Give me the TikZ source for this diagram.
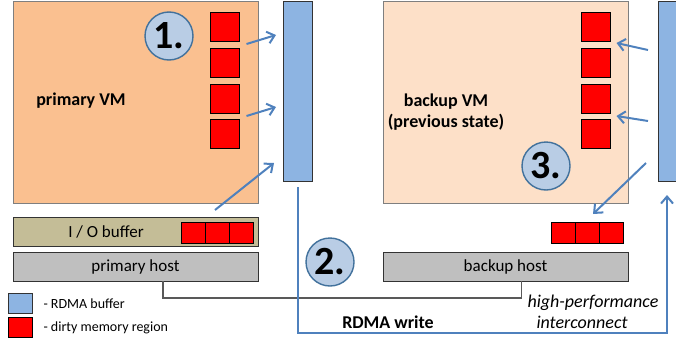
\documentclass[tikz,border=0pt]{standalone}
\usepackage{fontspec}
\setmainfont{Carlito}
\usetikzlibrary{arrows.meta}
\definecolor{vmorange}{HTML}{FAC090}
\definecolor{vmpeach}{HTML}{FDE0C8}
\definecolor{iotan}{HTML}{C4BD97}
\definecolor{hostgray}{HTML}{BFBFBF}
\definecolor{bufblue}{HTML}{8DB4E2}
\definecolor{stepfill}{HTML}{B9CDE5}
\definecolor{stepline}{HTML}{41719C}
\definecolor{flowblue}{HTML}{4F81BD}
\definecolor{boxline}{HTML}{7F7F7F}
\newcommand*{\sqSize}{29}
\newcommand*{\pCol}{225}
\newcommand*{\bCol}{596}

\begin{document}
\begin{tikzpicture}[x=1pt,y=-1pt,
	vmbox/.style={draw=boxline,line width=.8pt,minimum width=245pt,minimum height=202pt,inner sep=0pt,outer sep=0pt},
	hostbox/.style={draw=black!80,line width=.8pt,fill=hostgray,minimum width=245pt,minimum height=29pt,inner sep=0pt,outer sep=0pt,font=\fontsize{17}{19}\selectfont},
	rdmabuf/.style={draw=black!80,line width=.8pt,fill=bufblue,minimum width=29pt,minimum height=180pt,inner sep=0pt,outer sep=0pt},
	dirty/.style={draw=black,line width=.8pt,fill=red,minimum width=\sqSize pt,minimum height=\sqSize pt,inner sep=0pt,outer sep=0pt},
	dirtysmall/.style={dirty,minimum width=24pt,minimum height=21pt},
	stepno/.style={circle,draw=stepline,line width=1.4pt,fill=stepfill,minimum size=48pt,inner sep=0pt,font=\fontsize{40}{40}\selectfont\bfseries},
	flow/.style={draw=flowblue,line width=2pt,-{Straight Barb[length=7pt,width=12pt]}},
	label/.style={font=\fontsize{18}{21}\selectfont\bfseries}]
	\useasboundingbox (0,0) rectangle (676,343);
	
	\node[vmbox,fill=vmorange] (pvm) at (135.5,102) {};
	\node[vmbox,fill=vmpeach] (bvm) at (505.5,102) {};
	\node[label] (pvmtxt) at (81,101) {primary VM};
	\node[label,align=center] (bvmtxt) at (446,112) {backup VM\\(previous state)};
	
	\node[rdmabuf] (pbuf) at (297.5,91) {};
	\node[rdmabuf] (bbuf) at (672.5,91) {};
	
	\node[dirty] (p1) at (\pCol,26.5) {};
	\node[dirty] (p2) at (\pCol,62.5) {};
	\node[dirty] (p3) at (\pCol,98.5) {};
	\node[dirty] (p4) at (\pCol,134) {};
	\node[dirty] (b1) at (\bCol,26.5) {};
	\node[dirty] (b2) at (\bCol,62.5) {};
	\node[dirty] (b3) at (\bCol,98.5) {};
	\node[dirty] (b4) at (\bCol,134) {};
	
	\node[hostbox,fill=iotan] (io) at (135.5,231.5) {};
	\node[font=\fontsize{17}{19}\selectfont] (iotxt) at (106,232) {I / O buffer};
	\node[dirtysmall] (pio1) at (193,232.5) {};
	\node[dirtysmall] (pio2) at (217,232.5) {};
	\node[dirtysmall] (pio3) at (241,232.5) {};
	\node[dirtysmall] (bio1) at (563,232.5) {};
	\node[dirtysmall] (bio2) at (587,232.5) {};
	\node[dirtysmall] (bio3) at (611,232.5) {};
	
	\node[hostbox] (phost) at (135.5,266.5) {primary host};
	\node[hostbox] (bhost) at (505.5,266.5) {backup host};
	
	\node[stepno] (s1) at (169,36) {1.};
	\node[stepno] (s2) at (330,262) {2.};
	\node[stepno] (s3) at (546,166) {3.};
	
	\draw[flow] ([shift={(7,3)}]p1.south east) -- ([shift={(-7,34)}]pbuf.north west);
	\draw[flow] ([shift={(7,3)}]p3.south east) -- ([shift={(-7,106)}]pbuf.north west);
	\draw[flow] ([shift={(-43,-7)}]io.north east) -- ([shift={(-9,-18)}]pbuf.south west);
	\draw[flow] ([shift={(-10,49)}]bbuf.north west) -- ([shift={(6,2)}]b1.south east);
	\draw[flow] ([shift={(-10,120)}]bbuf.north west) -- ([shift={(6,3)}]b3.south east);
	\draw[flow] ([shift={(-12,-18)}]bbuf.south west) -- ([shift={(-30,-8)}]bio3.north east);
	
	\draw[draw=black!65,line width=1.5pt] ([xshift=27.5pt]phost.south) -- ++(0,17) -| ([xshift=16pt]bhost.south);
	
	\coordinate (wlow) at (667,333);
	\coordinate (wend) at (667,195);
	\draw[flow] ([yshift=-6pt]pbuf.south) |- (wlow) -- (wend);
	\node[label] (wtxt) at (388,322) {RDMA write};
	\node[font=\fontsize{18}{21}\selectfont\itshape] (hptxt) at (593,303) {high-performance};
	\node[font=\fontsize{18}{21}\selectfont\itshape] (ictxt) at (582,322) {interconnect};
	
	\node[rdmabuf,minimum width=24pt,minimum height=20pt] (lbuf) at (20,303) {};
	\node[dirty,minimum width=24pt,minimum height=20pt] (ldirty) at (20,327) {};
	\node[anchor=west,font=\fontsize{14}{16}\selectfont] (lbuftxt) at (40,304) {- RDMA buffer};
	\node[anchor=west,font=\fontsize{14}{16}\selectfont] (ldirtytxt) at (40,328) {- dirty memory region};
\end{tikzpicture}
\end{document}
